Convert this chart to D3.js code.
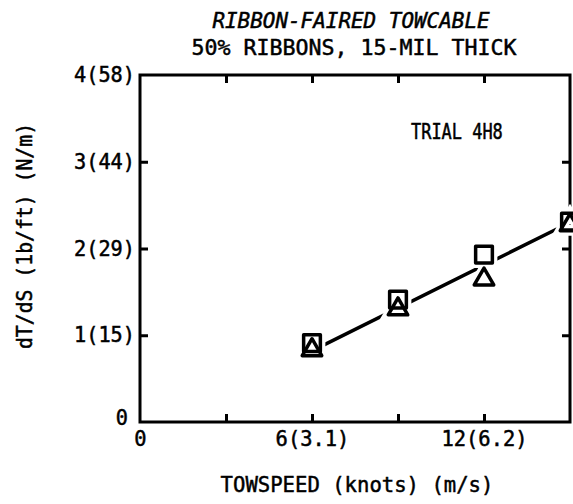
<!DOCTYPE html>
<html>
<head>
	<title>Ribbon-faired towcable</title>
	<script type="text/javascript" src="https://cdn.jsdelivr.net/npm/d3@7"></script>
	<style type="text/css">
		body {
			margin: 0;
			background: #fff;
		}
		text {
			font-family: "DejaVu Sans Mono", monospace;
			fill: #000;
			stroke: #000;
			stroke-width: 0.5;
		}
		.axis path, .axis line {
			stroke: #000;
			stroke-width: 3;
		}
	</style>
</head>
<body>
	<div id="chart"></div>
	<script type="text/javascript">
		// towspeed in knots
		const speeds = [6, 9, 12, 15];
		// dT/dS in lb/ft
		const squareVals = [0.91, 1.41, 1.93, 2.31];
		const triangleVals = [0.83, 1.30, 1.645, 2.27];
		// faired line through the points
		const fitSpeeds = [6, 15];
		const fitVals = [0.82, 2.30];

		const xTickValues = [3, 6, 9, 12];
		const xLabelValues = [0, 6, 12];
		const xLabels = ["0", "6(3.1)", "12(6.2)"];
		const yTickValues = [1, 2, 3];
		const yLabelValues = [0, 1, 2, 3, 4];
		const yLabels = ["0", "1(15)", "2(29)", "3(44)", "4(58)"];

		const width = 573;
		const height = 504;
		const margin = ({top: 75, right: 3, bottom: 82, left: 140});

		const x = d3.scaleLinear().domain([0, 15]).range([margin.left, width - margin.right]);
		const y = d3.scaleLinear().domain([0, 4]).range([height - margin.bottom, margin.top]);

		const svg = d3.select("#chart").append("svg")
			.attr("width", width)
			.attr("height", height);

		// squeeze glyphs a bit so the lettering is taller but keeps its width
		const squeeze = function (sel, advance) {
			sel.attr("textLength", function () { return this.textContent.length * advance; })
				.attr("lengthAdjust", "spacingAndGlyphs");
		};

		// frame
		svg.append("rect")
			.attr("x", x(0))
			.attr("y", y(4))
			.attr("width", x(15) - x(0))
			.attr("height", y(0) - y(4))
			.attr("fill", "none")
			.attr("stroke", "#000")
			.attr("stroke-width", 3);

		// inner ticks on all four sides
		const tickLen = 8;
		svg.append("g")
			.attr("class", "axis")
			.attr("transform", `translate(0,${y(0)})`)
			.call(d3.axisBottom(x).tickValues(xTickValues).tickSize(-tickLen).tickFormat(""))
			.call(g => g.select(".domain").remove());
		svg.append("g")
			.attr("class", "axis")
			.attr("transform", `translate(0,${y(4)})`)
			.call(d3.axisTop(x).tickValues(xTickValues).tickSize(-tickLen).tickFormat(""))
			.call(g => g.select(".domain").remove());
		svg.append("g")
			.attr("class", "axis")
			.attr("transform", `translate(${x(0)},0)`)
			.call(d3.axisLeft(y).tickValues(yTickValues).tickSize(-tickLen).tickFormat(""))
			.call(g => g.select(".domain").remove());
		svg.append("g")
			.attr("class", "axis")
			.attr("transform", `translate(${x(15)},0)`)
			.call(d3.axisRight(y).tickValues(yTickValues).tickSize(-tickLen).tickFormat(""))
			.call(g => g.select(".domain").remove());

		// tick labels
		svg.append("g")
			.attr("transform", `translate(0,${y(0)})`)
			.call(d3.axisBottom(x).tickValues(xLabelValues).tickSize(0).tickPadding(9)
				.tickFormat((d, i) => xLabels[i]))
			.call(g => g.select(".domain").remove())
			.call(g => g.selectAll("text").attr("font-size", 21).attr("font-family", null).call(squeeze, 12.3));

		svg.append("g")
			.attr("transform", `translate(${x(0)},0)`)
			.call(d3.axisLeft(y).tickValues(yLabelValues).tickSize(0).tickPadding(5)
				.tickFormat((d, i) => yLabels[i]))
			.call(g => g.select(".domain").remove())
			.call(g => g.selectAll("text").attr("font-size", 21).attr("font-family", null).call(squeeze, 12.2))
			.call(g => g.select(".tick:first-of-type text").attr("x", -12).attr("dy", "0.1em"));

		// titles
		svg.append("text")
			.attr("x", 351)
			.attr("y", 28)
			.attr("text-anchor", "middle")
			.attr("font-size", 21.5)
			.attr("font-style", "italic")
			.text("RIBBON-FAIRED TOWCABLE")
			.call(squeeze, 12.6);
		svg.append("text")
			.attr("x", 354)
			.attr("y", 55)
			.attr("text-anchor", "middle")
			.attr("font-size", 22)
			.text("50% RIBBONS, 15-MIL THICK")
			.call(squeeze, 13.0);
		svg.append("text")
			.attr("x", 357)
			.attr("y", 492)
			.attr("text-anchor", "middle")
			.attr("font-size", 22)
			.text("TOWSPEED (knots) (m/s)")
			.call(squeeze, 12.4);
		svg.append("text")
			.attr("transform", "translate(32,236) rotate(-90)")
			.attr("text-anchor", "middle")
			.attr("font-size", 21)
			.text("dT/dS (1b/ft) (N/m)")
			.call(squeeze, 11.9);
		svg.append("text")
			.attr("x", 411)
			.attr("y", 139)
			.attr("font-size", 21)
			.text("TRIAL 4H8")
			.call(squeeze, 10.2);

		// faired line
		const line = d3.line()
			.x(function (d, i) { return x(fitSpeeds[i]); })
			.y(function (d) { return y(d); });

		svg.append("path")
			.attr("d", line(fitVals))
			.attr("fill", "none")
			.attr("stroke", "#000")
			.attr("stroke-width", 3.5)
			.attr("stroke-linecap", "round");

		// markers, with a white halo so the line breaks around them
		const square = d3.symbol().type(d3.symbolSquare).size(280);
		const triangle = d3.symbol().type(d3.symbolTriangle).size(165);

		const series = [
			{vals: squareVals, sym: square},
			{vals: triangleVals, sym: triangle}
		];

		const place = (d, i) => `translate(${x(speeds[i])},${y(d)})`;

		series.forEach(function (s) {
			svg.append("g").selectAll("path")
				.data(s.vals)
				.join("path")
				.attr("d", s.sym)
				.attr("transform", place)
				.attr("fill", "none")
				.attr("stroke", "#fff")
				.attr("stroke-width", 10);
		});

		series.forEach(function (s) {
			svg.append("g").selectAll("path")
				.data(s.vals)
				.join("path")
				.attr("d", s.sym)
				.attr("transform", place)
				.attr("fill", "none")
				.attr("stroke", "#000")
				.attr("stroke-width", 3.5)
				.attr("stroke-linejoin", "round");
		});
	</script>
</body>
</html>
